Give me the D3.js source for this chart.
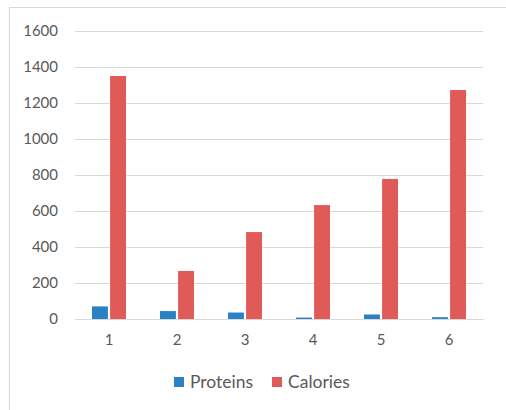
<!DOCTYPE html>
<html><head><meta charset="utf-8">
<script src="https://cdn.jsdelivr.net/npm/d3@7/dist/d3.min.js"></script>
<style>body{margin:0;background:#fff}svg{display:block}text{font-family:Lato,"Open Sans",sans-serif}</style>
</head><body>
<script>
const categories = ["1","2","3","4","5","6"];
const proteins = [70, 44, 36, 8, 25, 10];
const calories = [1350, 267, 483, 633, 778, 1272];
const seriesNames = ["Proteins","Calories"];
const colors = ["#2a82c4","#e05a57"];
const yTicks = [0,200,400,600,800,1000,1200,1400,1600];

const W=506,H=410;
const svg=d3.select("body").append("svg").attr("width",W).attr("height",H);
svg.append("rect").attr("x",9.5).attr("y",7.5).attr("width",520).attr("height",420)
  .attr("fill","#fff").attr("stroke","#d9d9d9");

const x=d3.scaleBand().domain(categories).range([75,483]);
const y=d3.scaleLinear().domain([0,1600]).range([319,31]);

const yAxis=d3.axisLeft(y).tickValues(yTicks).tickFormat(d3.format("d")).tickSize(-(483-75)).tickPadding(17);
const gy=svg.append("g").attr("transform","translate(75,0)").call(yAxis);
gy.select(".domain").remove();
gy.selectAll(".tick line").attr("stroke","#d9d9d9").attr("stroke-width",1);
gy.selectAll(".tick text").attr("fill","#595959").attr("font-size",15);

const xAxis=d3.axisBottom(x).tickSize(0).tickPadding(15);
const gx=svg.append("g").attr("transform","translate(0,319)").call(xAxis);
gx.select(".domain").attr("stroke","#d9d9d9");
gx.selectAll(".tick text").attr("fill","#595959").attr("font-size",15);

const data=categories.map((c,i)=>({c,vals:[proteins[i],calories[i]]}));
const inner=d3.scaleBand().domain([0,1]).range([0,34]).paddingInner(0.12);
const g=svg.append("g");
data.forEach(d=>{
  d.vals.forEach((v,j)=>{
    g.append("rect")
      .attr("x",x(d.c)+x.bandwidth()/2-17+inner(j))
      .attr("y",y(v)).attr("width",inner.bandwidth())
      .attr("height",y(0)-y(v)).attr("fill",colors[j]);
  });
});

const legend=[{x:174,tx:190},{x:272,tx:288}];
seriesNames.forEach((n,i)=>{
  svg.append("rect").attr("x",legend[i].x).attr("y",377).attr("width",10).attr("height",10).attr("fill",colors[i]);
  svg.append("text").attr("x",legend[i].tx).attr("y",387.5).attr("fill","#595959")
    .attr("font-size",17.5).text(n);
});
</script>
</body></html>
